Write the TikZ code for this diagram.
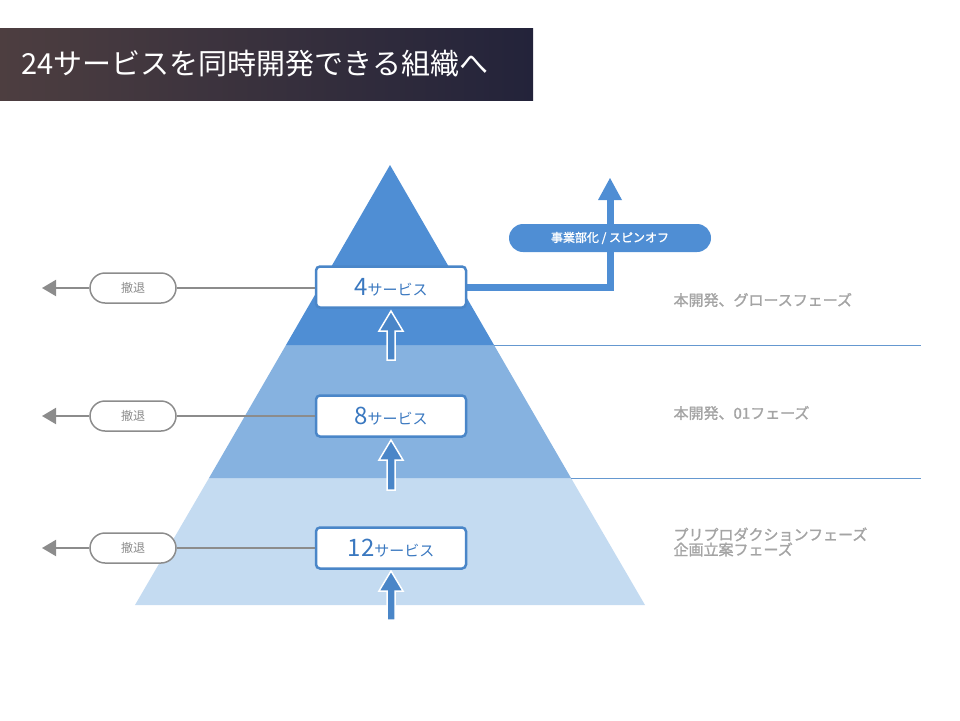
\documentclass[tikz,border=0pt]{standalone}
\usepackage{fontspec}
\setmainfont{Noto Sans CJK JP}
\newfontfamily\jpb{Noto Sans CJK JP}[FakeBold=1.5]
\usetikzlibrary{arrows.meta}
\definecolor{dk}{HTML}{4F8ED4}
\definecolor{md}{HTML}{86B2E0}
\definecolor{lt}{HTML}{C4DBF1}
\definecolor{bl}{HTML}{4A86C8}
\definecolor{txb}{HTML}{3A78C0}
\definecolor{gr}{HTML}{8C8C8C}
\definecolor{grt}{HTML}{A4A4A4}
\definecolor{ti1}{HTML}{4D3E40}
\definecolor{ti2}{HTML}{23233A}
\begin{document}
\begin{tikzpicture}[x=1pt,y=-1pt,
  svc/.style={draw=bl,line width=2.5pt,fill=white,rounded corners=4pt,minimum width=150pt,minimum height=41pt,text=txb,inner sep=0pt},
  pill/.style={draw=gr,line width=1.5pt,fill=white,rounded corners=15pt,minimum width=86pt,minimum height=30pt,text=gr,font=\fontsize{12}{12}\selectfont},
  gline/.style={draw=gr,line width=2pt},
  phase/.style={text=grt,anchor=west,font=\jpb\fontsize{15}{18}\selectfont,align=left},
  sep/.style={draw=bl!85,line width=1pt}]
\useasboundingbox (0,0) rectangle (960,720);
% title
\shade[left color=ti1,right color=ti2] (0,28) rectangle (533,100);
\node[text=white,anchor=west,font=\fontsize{29}{30}\selectfont] (title) at (18,64) {24サービスを同時開発できる組織へ};
% pyramid
\fill[lt] (135,605) -- (209,478) -- (571,478) -- (645,605) -- cycle;
\fill[md] (209,478) -- (286,345) -- (494,345) -- (571,478) -- cycle;
\fill[dk] (286,345) -- (390,165) -- (494,345) -- cycle;
\draw[sep] (494,345) -- (921,345);
\draw[sep] (571,478) -- (921,478);
% spinoff
\coordinate (corner) at (610,287);
\coordinate (top) at (610,178);
\draw[dk,line width=7pt] (467,287) -- (corner) -- (610,200);
\fill[dk] (top) -- (622,200) -- (598,200) -- cycle;
\node[fill=dk,rounded corners=14pt,minimum width=202pt,minimum height=28pt,text=white,font=\jpb\fontsize{12}{12}\selectfont] (spin) at (610,238) {事業部化 / スピンオフ};
% up arrows
\foreach \yb/\yt in {620/571, 490/440, 360/311}{
  \filldraw[fill=bl,draw=white,line width=1.5pt] (387,\yb) -- (387,\yt+20) -- (379,\yt+20) -- (391,\yt) -- (403,\yt+20) -- (395,\yt+20) -- (395,\yb) -- cycle;
}
% boxes
\node[svc] (s4) at (391,287) {{\fontsize{24}{24}\selectfont 4}{\fontsize{15}{15}\selectfont サービス}};
\node[svc] (s8) at (391,416) {{\fontsize{24}{24}\selectfont 8}{\fontsize{15}{15}\selectfont サービス}};
\node[svc] (s12) at (391,548) {{\fontsize{24}{24}\selectfont 12}{\fontsize{15}{15}\selectfont サービス}};
% withdraw
\foreach \n/\y in {4/288,8/416,12/548}{
  \node[pill] (p\n) at (133,\y) {撤退};
  \coordinate (e\n) at (42,\y);
  \draw[gline] (s\n.west |- p\n) -- (p\n.east);
  \draw[gline,-{Triangle[length=14pt,width=16pt]}] (p\n.west) -- (e\n);
}
% phases
\node[phase] (ph1) at (670,300) {本開発、グロースフェーズ};
\node[phase] (ph2) at (670,413) {本開発、01フェーズ};
\node[phase] (ph3) at (670,542) {プリプロダクションフェーズ\\[-3pt]企画立案フェーズ};
\end{tikzpicture}
\end{document}
